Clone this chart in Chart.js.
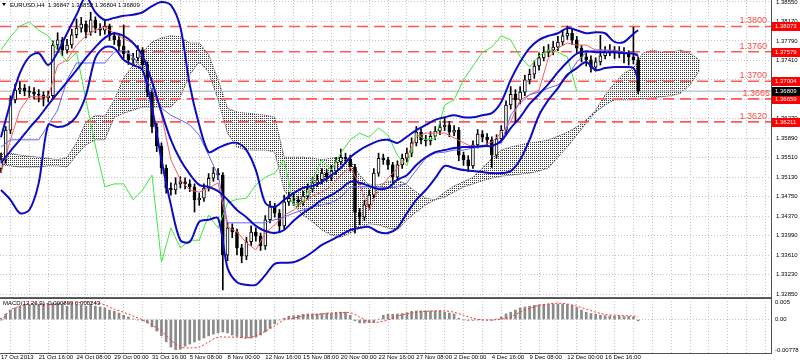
<!DOCTYPE html>
<html>
<head>
<meta charset="utf-8">
<script src="https://cdn.jsdelivr.net/npm/chart.js@4.4.1/dist/chart.umd.min.js"></script>
<style>
  html, body { margin: 0; padding: 0; background: #fff; }
  #wrap { position: relative; width: 800px; height: 361px; overflow: hidden; background: #fff; }
  #main { position: absolute; left: 0; top: 0; }
  #macd { position: absolute; left: 0; top: 297px; }
</style>
</head>
<body>
<div id="wrap">
  <canvas id="main" width="800" height="298"></canvas>
  <canvas id="macd" width="800" height="64"></canvas>
</div>
<script>
const FONT = "'Liberation Sans', Arial, sans-serif";

// EURUSD H4, one candle every 2 bars
const opens = [1.3530,1.3547,1.3605,1.3664,1.3683,1.3687,1.3681,1.3679,1.3675,1.3673,
  1.3668,1.3672,1.3771,1.3781,1.3761,1.3771,1.3791,1.3804,1.3812,1.3796,
  1.3820,1.3804,1.3800,1.3808,1.3789,1.3781,1.3769,1.3754,1.3742,1.3746,
  1.3761,1.3732,1.3679,1.3611,1.3574,1.3531,1.3492,1.3488,1.3500,1.3504,
  1.3500,1.3494,1.3469,1.3472,1.3492,1.3511,1.3521,1.3517,1.3361,1.3414,
  1.3406,1.3375,1.3359,1.3387,1.3406,1.3398,1.3379,1.3430,1.3455,1.3443,
  1.3418,1.3465,1.3472,1.3469,1.3465,1.3476,1.3490,1.3502,1.3508,1.3521,
  1.3513,1.3525,1.3543,1.3552,1.3549,1.3533,1.3445,1.3435,1.3459,1.3478,
  1.3521,1.3550,1.3547,1.3537,1.3513,1.3537,1.3550,1.3560,1.3580,1.3601,
  1.3586,1.3584,1.3593,1.3603,1.3611,1.3615,1.3601,1.3605,1.3556,1.3547,
  1.3535,1.3576,1.3597,1.3591,1.3586,1.3556,1.3588,1.3605,1.3654,1.3675,
  1.3664,1.3679,1.3703,1.3714,1.3730,1.3746,1.3757,1.3761,1.3767,1.3777,
  1.3789,1.3794,1.3781,1.3765,1.3748,1.3742,1.3728,1.3738,1.3750,1.3757,
  1.3761,1.3755,1.3757,1.3754,1.3748,1.3742];
const closes = [1.3547,1.3605,1.3664,1.3683,1.3687,1.3681,1.3679,1.3675,1.3673,1.3668,
  1.3672,1.3771,1.3781,1.3761,1.3771,1.3791,1.3804,1.3812,1.3796,1.3820,
  1.3804,1.3800,1.3808,1.3789,1.3781,1.3769,1.3754,1.3742,1.3746,1.3761,
  1.3732,1.3679,1.3611,1.3574,1.3531,1.3492,1.3488,1.3500,1.3504,1.3500,
  1.3494,1.3469,1.3472,1.3492,1.3511,1.3521,1.3517,1.3361,1.3414,1.3406,
  1.3375,1.3359,1.3387,1.3406,1.3398,1.3379,1.3430,1.3455,1.3443,1.3418,
  1.3465,1.3472,1.3469,1.3465,1.3476,1.3490,1.3502,1.3508,1.3521,1.3513,
  1.3525,1.3543,1.3552,1.3549,1.3533,1.3445,1.3435,1.3459,1.3478,1.3521,
  1.3550,1.3547,1.3537,1.3513,1.3537,1.3550,1.3560,1.3580,1.3601,1.3586,
  1.3584,1.3593,1.3603,1.3611,1.3615,1.3601,1.3605,1.3556,1.3547,1.3535,
  1.3576,1.3597,1.3591,1.3586,1.3556,1.3588,1.3605,1.3654,1.3675,1.3664,
  1.3679,1.3703,1.3714,1.3730,1.3746,1.3757,1.3761,1.3767,1.3777,1.3789,
  1.3794,1.3781,1.3765,1.3748,1.3742,1.3728,1.3738,1.3750,1.3757,1.3761,
  1.3755,1.3757,1.3754,1.3748,1.3742,1.3681];
const highs = [1.3560,1.3612,1.3672,1.3695,1.3699,1.3694,1.3690,1.3688,1.3684,1.3680,
  1.3681,1.3779,1.3795,1.3786,1.3782,1.3802,1.3822,1.3825,1.3818,1.3835,
  1.3826,1.3813,1.3818,1.3812,1.3796,1.3790,1.3810,1.3760,1.3755,1.3770,
  1.3766,1.3738,1.3684,1.3618,1.3580,1.3537,1.3502,1.3512,1.3514,1.3512,
  1.3508,1.3500,1.3482,1.3500,1.3520,1.3532,1.3530,1.3522,1.3424,1.3422,
  1.3412,1.3382,1.3396,1.3418,1.3414,1.3404,1.3438,1.3466,1.3462,1.3450,
  1.3478,1.3484,1.3480,1.3476,1.3486,1.3500,1.3512,1.3518,1.3530,1.3528,
  1.3536,1.3552,1.3568,1.3560,1.3556,1.3538,1.3452,1.3468,1.3488,1.3530,
  1.3560,1.3558,1.3552,1.3542,1.3545,1.3558,1.3570,1.3590,1.3612,1.3608,
  1.3595,1.3602,1.3612,1.3622,1.3628,1.3622,1.3614,1.3610,1.3562,1.3555,
  1.3584,1.3606,1.3604,1.3598,1.3592,1.3596,1.3614,1.3662,1.3690,1.3684,
  1.3690,1.3712,1.3724,1.3740,1.3756,1.3768,1.3772,1.3778,1.3788,1.3800,
  1.3808,1.3802,1.3788,1.3770,1.3756,1.3750,1.3746,1.3790,1.3768,1.3772,
  1.3768,1.3768,1.3766,1.3760,1.3806,1.3748];
const lows = [1.3522,1.3540,1.3598,1.3658,1.3676,1.3672,1.3668,1.3666,1.3660,1.3652,
  1.3660,1.3668,1.3762,1.3750,1.3755,1.3765,1.3785,1.3796,1.3785,1.3790,
  1.3795,1.3790,1.3792,1.3780,1.3772,1.3760,1.3745,1.3733,1.3735,1.3740,
  1.3724,1.3670,1.3600,1.3563,1.3520,1.3482,1.3478,1.3480,1.3492,1.3490,
  1.3485,1.3445,1.3458,1.3466,1.3486,1.3505,1.3508,1.3293,1.3350,1.3395,
  1.3362,1.3346,1.3352,1.3380,1.3388,1.3370,1.3372,1.3424,1.3435,1.3405,
  1.3412,1.3458,1.3458,1.3455,1.3458,1.3470,1.3484,1.3495,1.3500,1.3505,
  1.3506,1.3518,1.3537,1.3540,1.3525,1.3404,1.3420,1.3428,1.3450,1.3472,
  1.3515,1.3538,1.3528,1.3502,1.3508,1.3530,1.3543,1.3553,1.3574,1.3578,
  1.3574,1.3576,1.3586,1.3596,1.3604,1.3592,1.3594,1.3545,1.3536,1.3524,
  1.3530,1.3570,1.3582,1.3576,1.3532,1.3550,1.3580,1.3598,1.3646,1.3620,
  1.3656,1.3672,1.3695,1.3706,1.3722,1.3740,1.3748,1.3752,1.3760,1.3770,
  1.3782,1.3772,1.3756,1.3738,1.3730,1.3718,1.3720,1.3732,1.3744,1.3750,
  1.3744,1.3746,1.3736,1.3732,1.3734,1.3676];

// indicator lines, one value every 4 bars (last one at bar 270)
const bbUpper = [1.3591,1.3658,1.3716,1.3748,1.3755,1.3732,1.3757,1.3794,1.3830,1.3865,
  1.3835,1.3820,1.3824,1.3828,1.3830,1.3835,1.3847,1.3855,1.3849,1.3806,
  1.3693,1.3615,1.3562,1.3570,1.3578,1.3580,1.3566,1.3527,1.3463,1.3455,
  1.3469,1.3482,1.3492,1.3496,1.3504,1.3517,1.3531,1.3552,1.3566,1.3576,
  1.3584,1.3586,1.3580,1.3592,1.3605,1.3615,1.3625,1.3630,1.3634,1.3630,
  1.3630,1.3634,1.3638,1.3660,1.3703,1.3738,1.3765,1.3781,1.3789,1.3794,
  1.3804,1.3800,1.3794,1.3796,1.3794,1.3777,1.3777,1.3793,1.3800];
const bbMiddle = [1.3541,1.3564,1.3586,1.3609,1.3630,1.3654,1.3677,1.3699,1.3722,1.3746,
  1.3767,1.3785,1.3794,1.3789,1.3775,1.3750,1.3699,1.3640,1.3586,1.3547,
  1.3519,1.3498,1.3494,1.3486,1.3469,1.3449,1.3435,1.3418,1.3408,1.3404,
  1.3410,1.3428,1.3443,1.3455,1.3469,1.3478,1.3490,1.3504,1.3502,1.3496,
  1.3490,1.3492,1.3508,1.3517,1.3537,1.3552,1.3562,1.3566,1.3570,1.3572,
  1.3572,1.3574,1.3574,1.3584,1.3609,1.3630,1.3656,1.3675,1.3695,1.3718,
  1.3738,1.3754,1.3759,1.3757,1.3757,1.3757,1.3755,1.3754,1.3750];
const bbLower = [1.3488,1.3469,1.3443,1.3449,1.3502,1.3615,1.3611,1.3615,1.3632,1.3673,
  1.3746,1.3767,1.3765,1.3742,1.3732,1.3722,1.3648,1.3547,1.3459,1.3390,
  1.3387,1.3426,1.3430,1.3433,1.3336,1.3308,1.3303,1.3303,1.3322,1.3344,
  1.3346,1.3347,1.3355,1.3367,1.3381,1.3390,1.3400,1.3410,1.3414,1.3416,
  1.3406,1.3404,1.3414,1.3443,1.3469,1.3488,1.3511,1.3535,1.3531,1.3527,
  1.3525,1.3523,1.3521,1.3521,1.3525,1.3547,1.3586,1.3634,1.3664,1.3687,
  1.3713,1.3726,1.3738,1.3722,1.3726,1.3728,1.3728,1.3726,1.3703];
const tenkan = [1.3521,1.3586,1.3644,1.3670,1.3670,1.3670,1.3732,1.3742,1.3771,1.3789,
  1.3800,1.3806,1.3794,1.3783,1.3775,1.3748,1.3703,1.3634,1.3547,1.3508,
  1.3488,1.3484,1.3492,1.3502,1.3416,1.3406,1.3385,1.3371,1.3404,1.3420,
  1.3439,1.3449,1.3465,1.3476,1.3484,1.3496,1.3517,1.3533,1.3498,1.3449,
  1.3488,1.3511,1.3531,1.3552,1.3592,1.3599,1.3599,1.3599,1.3590,1.3580,
  1.3572,1.3574,1.3582,1.3599,1.3621,1.3664,1.3674,1.3683,1.3746,1.3765,
  1.3775,1.3771,1.3771,1.3761,1.3761,1.3761,1.3757,1.3755,1.3752];
const kijun = [1.3572,1.3586,1.3586,1.3586,1.3586,1.3615,1.3644,1.3703,1.3736,1.3736,
  1.3736,1.3736,1.3757,1.3761,1.3748,1.3722,1.3683,1.3648,1.3634,1.3625,
  1.3615,1.3595,1.3556,1.3517,1.3424,1.3424,1.3424,1.3424,1.3424,1.3430,
  1.3435,1.3443,1.3449,1.3455,1.3459,1.3463,1.3474,1.3494,1.3494,1.3494,
  1.3494,1.3492,1.3494,1.3502,1.3527,1.3550,1.3560,1.3562,1.3566,1.3566,
  1.3570,1.3572,1.3574,1.3580,1.3634,1.3658,1.3674,1.3679,1.3687,1.3693,
  1.3709,1.3738,1.3757,1.3761,1.3761,1.3759,1.3757,1.3755,1.3755];
const chikou = [1.3761,1.3787,1.3808,1.3816,1.3800,1.3789,1.3761,1.3738,1.3757,1.3664,
  1.3574,1.3494,1.3500,1.3500,1.3469,1.3488,1.3517,1.3347,1.3414,1.3375,
  1.3390,1.3390,1.3439,1.3414,1.3463,1.3470,1.3472,1.3498,1.3513,1.3521,
  1.3547,1.3459,1.3463,1.3508,1.3547,1.3527,1.3560,1.3586,1.3599,1.3591,
  1.3609,1.3595,1.3556,1.3535,1.3597,1.3586,1.3588,1.3654,1.3664,1.3703,
  1.3730,1.3757,1.3767,1.3789,1.3781,1.3748,1.3728,1.3750,1.3761,1.3757,
  1.3748,1.3681];
const cloudUpper = [1.3560,1.3560,1.3556,1.3554,1.3552,1.3550,1.3547,1.3552,1.3580,1.3621,
  1.3634,1.3632,1.3664,1.3707,1.3732,1.3757,1.3777,1.3785,1.3789,1.3787,
  1.3775,1.3775,1.3752,1.3703,1.3648,1.3640,1.3638,1.3636,1.3634,1.3630,
  1.3552,1.3552,1.3552,1.3550,1.3547,1.3550,1.3552,1.3547,1.3517,1.3498,
  1.3498,1.3504,1.3508,1.3498,1.3484,1.3472,1.3469,1.3484,1.3496,1.3504,
  1.3513,1.3531,1.3550,1.3566,1.3572,1.3576,1.3580,1.3582,1.3586,1.3593,
  1.3601,1.3611,1.3625,1.3644,1.3674,1.3697,1.3716,1.3726,1.3755,1.3761,
  1.3757,1.3757,1.3761,1.3755,1.3742];
const cloudLower = [1.3537,1.3535,1.3533,1.3533,1.3533,1.3535,1.3535,1.3533,1.3556,1.3576,
  1.3586,1.3586,1.3630,1.3638,1.3644,1.3650,1.3650,1.3650,1.3650,1.3670,
  1.3713,1.3738,1.3718,1.3664,1.3599,1.3572,1.3566,1.3566,1.3566,1.3562,
  1.3488,1.3459,1.3439,1.3426,1.3410,1.3400,1.3396,1.3404,1.3414,1.3422,
  1.3420,1.3414,1.3410,1.3430,1.3445,1.3459,1.3469,1.3474,1.3484,1.3494,
  1.3500,1.3506,1.3511,1.3515,1.3517,1.3519,1.3521,1.3525,1.3531,1.3552,
  1.3572,1.3595,1.3619,1.3640,1.3654,1.3664,1.3664,1.3664,1.3666,1.3668,
  1.3670,1.3672,1.3677,1.3693,1.3722];

// support / resistance
const levelValues = [1.38073, 1.37579, 1.37004, 1.36659, 1.36211];
const levelNames = ['1.3800', '1.3760', '1.3700', '1.3665', '1.3620'];
const lastPrice = 1.36809;
const priceTicks = [1.38550,1.38170,1.37790,1.37410,1.37030,1.36650,1.36270,1.35890,
  1.35510,1.35130,1.34750,1.34370,1.33990,1.33610,1.33230,1.32850];

// MACD(12,26,9): histogram every 2 bars, signal every 4 bars
const macdHist = [0.0003,0.0013,0.0022,0.0027,0.0031,0.0033,0.0034,0.0034,0.0035,0.0036,
  0.0036,0.0038,0.0037,0.0034,0.0031,0.0034,0.0034,0.0033,0.0031,0.0034,
  0.0031,0.0029,0.0027,0.0022,0.0019,0.0015,0.0010,0.0006,0.0001,-0.0001,
  -0.0003,-0.0008,-0.0017,-0.0027,-0.0038,-0.0052,-0.0064,-0.0070,-0.0069,-0.0062,
  -0.0057,-0.0052,-0.0048,-0.0043,-0.0038,-0.0034,-0.0031,-0.0029,-0.0031,-0.0036,
  -0.0039,-0.0042,-0.0043,-0.0043,-0.0041,-0.0036,-0.0029,-0.0020,-0.0010,-0.0001,
  0.0003,0.0008,0.0009,0.0010,0.0012,0.0013,0.0013,0.0013,0.0014,0.0015,
  0.0015,0.0016,0.0017,0.0017,0.0010,-0.0003,-0.0008,-0.0008,-0.0007,-0.0006,
  0.0001,0.0010,0.0012,0.0012,0.0013,0.0014,0.0016,0.0019,0.0020,0.0020,
  0.0020,0.0020,0.0020,0.0020,0.0017,0.0015,0.0013,0.0003,-0.0001,-0.0002,
  -0.0002,-0.0001,-0.0001,-0.0001,-0.0002,0.0001,0.0006,0.0013,0.0017,0.0022,
  0.0027,0.0029,0.0031,0.0033,0.0034,0.0035,0.0036,0.0036,0.0036,0.0036,
  0.0035,0.0033,0.0028,0.0022,0.0017,0.0014,0.0012,0.0010,0.0009,0.0008,
  0.0008,0.0008,0.0007,0.0007,0.0006,-0.0003];
const macdSignal = [-0.0003,0.0022,0.0031,0.0037,0.0036,0.0034,0.0036,0.0038,0.0039,0.0041,
  0.0039,0.0034,0.0024,0.0017,0.0008,-0.0001,-0.0013,-0.0027,-0.0048,-0.0064,
  -0.0066,-0.0064,-0.0052,-0.0041,-0.0041,-0.0041,-0.0043,-0.0038,-0.0027,-0.0015,
  -0.0001,0.0003,0.0008,0.0010,0.0013,0.0015,0.0016,0.0016,0.0006,-0.0006,
  -0.0006,-0.0001,0.0008,0.0013,0.0017,0.0019,0.0020,0.0020,0.0017,0.0010,
  0.0003,-0.0001,-0.0001,0.0001,0.0006,0.0017,0.0026,0.0033,0.0036,0.0038,
  0.0036,0.0031,0.0024,0.0017,0.0012,0.0010,0.0009,0.0008,0.0006];
const macdTicks = [0.005, 0, -0.00778];
const macdTickNames = ['0.005', '0.00', '-0.00778'];

const timeLabels = ['17 Oct 2013','21 Oct 16:00','24 Oct 08:00','29 Oct 00:00','31 Oct 16:00',
  '5 Nov 08:00','8 Nov 00:00','12 Nov 16:00','15 Nov 08:00','20 Nov 00:00','22 Nov 16:00',
  '27 Nov 08:00','2 Dec 00:00','4 Dec 16:00','9 Dec 08:00','12 Dec 00:00','16 Dec 16:00'];

const titleText = 'EURUSD,H4  1.36847 1.36852 1.36804 1.36809';
const macdText = 'MACD(12,26,9) -0.000899 0.000243';

// bar positions
const X_MIN = -0.42, X_MAX = 326.3;
const candleBars = closes.map((_, i) => i * 2);
const lineBar = j => (j < 68 ? j * 4 : 270);
const gridBars = Array.from({ length: 41 }, (_, i) => i * 8);

const pts = arr => arr.map((v, j) => ({ x: lineBar(j), y: v }));
const cloudPts = arr => arr.map((v, j) => ({ x: j * 4, y: v }));

function dotPattern() {
  const c = document.createElement('canvas');
  c.width = 2; c.height = 2;
  const g = c.getContext('2d');
  g.fillStyle = '#3a3a3a';
  g.fillRect(0, 0, 1, 1);
  return g.createPattern(c, 'repeat');
}

function lineSet(data, color, width, order, extra) {
  return Object.assign({
    type: 'line', data, borderColor: color, borderWidth: width,
    pointRadius: 0, fill: false, tension: 0, order
  }, extra || {});
}

const datasets = [
  lineSet(cloudPts(cloudUpper), '#404040', 1, 9, { fill: 1, backgroundColor: dotPattern(), borderDash: [1, 1] }),
  lineSet(cloudPts(cloudLower), '#404040', 1, 9, { borderDash: [1, 1] }),
];
levelValues.forEach(v => {
  datasets.push(lineSet([{ x: X_MIN, y: v }, { x: X_MAX, y: v }], '#ff5a5a', 1.6, 7, { borderDash: [11, 6] }));
});
datasets.push(lineSet([{ x: X_MIN, y: lastPrice }, { x: X_MAX, y: lastPrice }], '#c8c8c8', 1.5, 6));
datasets.push({
  type: 'bar', order: 5, grouped: false, barThickness: 1, backgroundColor: '#000',
  data: candleBars.map((b, i) => ({ x: b, y: [lows[i], highs[i]] }))
});
datasets.push({
  type: 'bar', order: 4, grouped: false, barThickness: 3, minBarLength: 1,
  backgroundColor: closes.map((c, i) => (c >= opens[i] ? '#ffffff' : '#000000')),
  borderColor: '#000', borderWidth: 1, borderSkipped: false,
  data: candleBars.map((b, i) => ({ x: b, y: [opens[i], closes[i]] }))
});
datasets.push(lineSet(chikou.map((v, j) => ({ x: j * 4, y: v })), '#3ce83c', 1, 3));
datasets.push(lineSet(pts(kijun), '#6464ff', 1, 2));
datasets.push(lineSet(pts(tenkan), '#ff5a5a', 1, 2));
datasets.push(lineSet(pts(bbUpper), '#0c0cc4', 2, 1, { tension: 0.3 }));
datasets.push(lineSet(pts(bbMiddle), '#0c0cc4', 2, 1, { tension: 0.3 }));
datasets.push(lineSet(pts(bbLower), '#0c0cc4', 2, 1, { tension: 0.3 }));

const mainOverlay = {
  id: 'mainOverlay',
  afterDraw(chart) {
    const ctx = chart.ctx;
    const ys = chart.scales.y;
    const right = chart.chartArea.right;
    ctx.save();
    // level captions
    ctx.font = '9px ' + FONT;
    ctx.textAlign = 'right';
    ctx.textBaseline = 'alphabetic';
    ctx.fillStyle = '#ff4a4a';
    levelValues.forEach((v, i) => {
      const y = ys.getPixelForValue(v);
      ctx.fillText(levelNames[i], i === 3 ? 770 : 767, y - 3);
    });
    // price boxes on the axis
    ctx.font = '6px ' + FONT;
    ctx.textAlign = 'left';
    ctx.textBaseline = 'middle';
    const box = (v, color) => {
      const y = ys.getPixelForValue(v);
      ctx.fillStyle = color;
      ctx.fillRect(right + 1, Math.round(y) - 4, 28, 9);
      ctx.fillStyle = '#fff';
      ctx.fillText(v.toFixed(5), right + 4, Math.round(y) + 0.5);
    };
    levelValues.forEach(v => box(v, '#ff0000'));
    box(lastPrice, '#000000');
    // title
    ctx.fillStyle = '#000';
    ctx.beginPath();
    ctx.moveTo(2, 3); ctx.lineTo(6, 3); ctx.lineTo(4, 6); ctx.closePath(); ctx.fill();
    ctx.font = '6px ' + FONT;
    ctx.fillText(titleText, 10, 5);
    ctx.restore();
  }
};

new Chart(document.getElementById('main'), {
  type: 'bar',
  data: { datasets },
  options: {
    responsive: false, animation: false, devicePixelRatio: 1,
    layout: { padding: 0 },
    plugins: { legend: { display: false }, tooltip: { enabled: false } },
    scales: {
      x: {
        type: 'linear', min: X_MIN, max: X_MAX, offset: false,
        afterBuildTicks: s => { s.ticks = gridBars.map(v => ({ value: v })); },
        afterFit: s => { s.height = 1; s.paddingLeft = 0; s.paddingRight = 0; },
        ticks: { display: false },
        grid: { color: '#c4c4c4', drawTicks: false },
        border: { display: true, color: '#606060', dash: [1, 2] }
      },
      y: {
        type: 'linear', position: 'right', min: 1.32792, max: 1.38589,
        afterBuildTicks: s => { s.ticks = priceTicks.map(v => ({ value: v })); },
        afterFit: s => { s.width = 29; s.paddingTop = 0; s.paddingBottom = 0; },
        ticks: { callback: v => v.toFixed(5), font: { family: FONT, size: 6 }, color: '#000', padding: 5 },
        grid: { color: '#c4c4c4', drawTicks: false },
        border: { display: true, color: '#505050', dash: [1, 2] }
      }
    }
  },
  plugins: [mainOverlay]
});

const macdOverlay = {
  id: 'macdOverlay',
  afterDraw(chart) {
    const ctx = chart.ctx;
    const ys = chart.scales.y;
    const a = chart.chartArea;
    ctx.save();
    ctx.strokeStyle = '#505050';
    ctx.lineWidth = 1;
    ctx.beginPath(); ctx.moveTo(0, a.top + 0.5); ctx.lineTo(a.right, a.top + 0.5); ctx.stroke();
    ctx.font = '6px ' + FONT;
    ctx.fillStyle = '#000';
    ctx.textBaseline = 'middle';
    ctx.textAlign = 'left';
    ctx.fillText(macdText, 3, a.top + 5);
    macdTicks.forEach((v, i) => {
      const y = Math.min(Math.max(ys.getPixelForValue(v), a.top + 4), a.bottom - 3);
      ctx.fillText(macdTickNames[i], a.right + 4, y);
    });
    ctx.restore();
  }
};

new Chart(document.getElementById('macd'), {
  type: 'bar',
  data: {
    datasets: [
      {
        type: 'line', order: 1, data: macdSignal.map((v, j) => ({ x: lineBar(j), y: v })),
        borderColor: '#ff3030', borderWidth: 1, borderDash: [2, 2], pointRadius: 0, tension: 0.3
      },
      {
        type: 'bar', order: 2, barThickness: 2, grouped: false, backgroundColor: '#8a8a8a',
        data: macdHist.map((v, i) => ({ x: candleBars[i], y: v }))
      }
    ]
  },
  options: {
    responsive: false, animation: false, devicePixelRatio: 1,
    layout: { padding: { top: 1, left: 0, right: 0, bottom: 0 } },
    plugins: { legend: { display: false }, tooltip: { enabled: false } },
    scales: {
      x: {
        type: 'linear', min: X_MIN, max: X_MAX, offset: false,
        afterBuildTicks: s => { s.ticks = gridBars.map(v => ({ value: v })); },
        afterFit: s => { s.height = 8; s.paddingLeft = 0; s.paddingRight = 0; },
        ticks: {
          autoSkip: false, maxRotation: 0, align: 'start', padding: 1,
          font: { family: FONT, size: 6, lineHeight: 1 }, color: '#000',
          callback: v => (v % 16 === 0 && timeLabels[v / 16]) ? timeLabels[v / 16] : ''
        },
        grid: { color: '#c4c4c4', drawTicks: false },
        border: { display: true, color: '#505050', dash: [1, 2] }
      },
      y: {
        type: 'linear', position: 'right', min: -0.00778, max: 0.005,
        afterBuildTicks: s => { s.ticks = macdTicks.map(v => ({ value: v })); },
        afterFit: s => { s.width = 29; s.paddingTop = 0; s.paddingBottom = 0; },
        ticks: { display: false },
        grid: { color: '#c4c4c4', drawTicks: false },
        border: { display: true, color: '#505050', dash: [1, 2] }
      }
    }
  },
  plugins: [macdOverlay]
});
</script>
</body>
</html>
